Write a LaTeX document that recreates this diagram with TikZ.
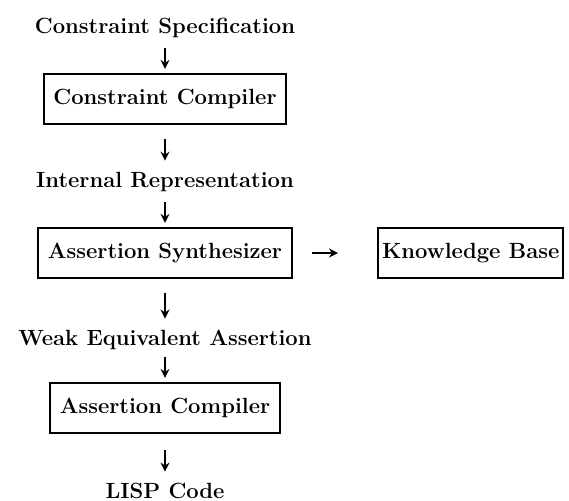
\documentclass[tikz,border=0pt]{standalone}
\usepackage{tikz}
\usetikzlibrary{arrows.meta}

\tikzset{
  stage/.style={draw=black,line width=1.1pt,inner xsep=4.8pt,minimum height=25pt},
  flow/.style={->,line width=1.1pt,shorten >=2pt},
}

\begin{document}
\begin{tikzpicture}[x=0.5pt,y=-0.5pt,>={Stealth[length=4.5pt,width=4.5pt]},
    font=\fontsize{11}{13}\selectfont\bfseries]
  \useasboundingbox (0,0) rectangle (569,500);
  \node[anchor=base] (spec) at (165,33) {Constraint Specification};
  \node[stage] (cc) at (165,99) {Constraint Compiler};
  \node[anchor=base] (internal) at (165,187) {Internal Representation};
  \node[stage] (as) at (165,253) {Assertion Synthesizer};
  \node[stage,anchor=west,inner xsep=2pt] (kb) at (377,253) {Knowledge Base};
  \node[anchor=base] (weak) at (165,345) {Weak Equivalent Assertion};
  \node[stage] (ac) at (165,408) {Assertion Compiler};
  \node[anchor=base] (lisp) at (165,498) {LISP Code};
  % flow of the compilation
  \path [flow] (spec) edge[shorten <=2pt] (cc);
  \path [flow] (cc) edge[shorten <=7pt] (internal);
  \path [flow] (internal) edge[shorten <=2pt] (as);
  \path [flow] (as) edge[shorten <=7pt] (weak);
  \path [flow] (weak) edge[shorten <=0.5pt] (ac);
  \path [flow] (ac) edge[shorten <=8pt] (lisp);
  \path [flow] (as) edge[shorten <=9.5pt,shorten >=19.5pt] (kb);
\end{tikzpicture}
\end{document}
